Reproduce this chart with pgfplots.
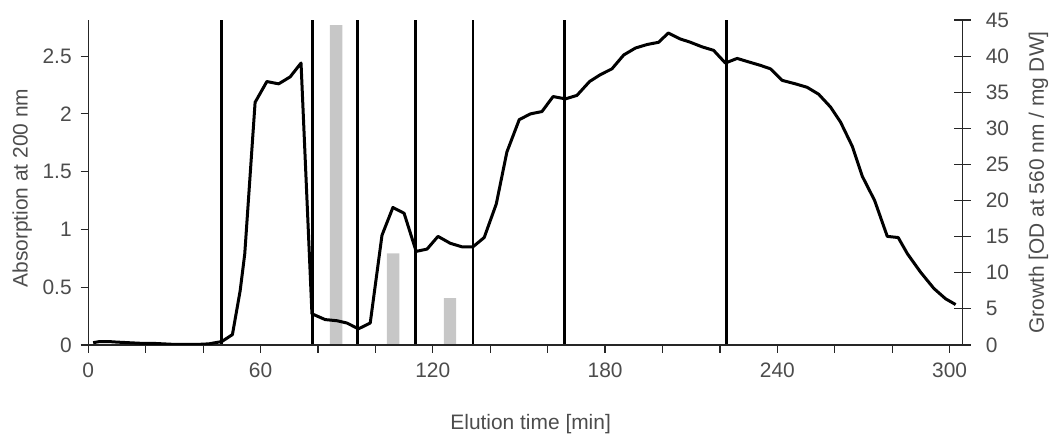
\documentclass[border=0pt]{standalone}
\usepackage{fontspec}
\setmainfont{Liberation Sans}
\usepackage{pgfplots}
\pgfplotsset{compat=1.18}
\definecolor{txt}{gray}{0.3}
\definecolor{barfill}{gray}{0.78}
\begin{document}
\begin{tikzpicture}
\path[use as bounding box] (-44.15bp,-45bp) rectangle (483.85bp,172.5bp);
\pgfplotsset{common/.style={
  scale only axis, width=437.1bp, height=162.5bp, at={(0,0)}, anchor=south west,
  xmin=0, xmax=304.5,
  font=\fontsize{10.5}{12}\selectfont,
  /pgf/number format/assume math mode=true,
  tick label style={text=txt},
  label style={text=txt},
  axis line style={line width=0.6bp, black!85},
  every tick/.style={line width=0.6bp, black!85},
}}
% right axis: growth bars and fraction boundaries
\begin{axis}[common,
  ymin=0, ymax=45,
  axis x line=none, axis y line*=right,
  y axis line style={-},
  ytick={0,5,...,45},
  tick align=center, major tick length=8.3bp,
  yticklabel style={anchor=west, xshift=4bp},
  ylabel={Growth [OD at 560 nm / mg DW]},
  ylabel style={at={(axis description cs:1.087,0.5)}, anchor=center, rotate=0},
]
\addplot[ybar, bar width=6.2bp, fill=barfill, draw=none] coordinates {
  (86.3,44.3) (106.2,12.7) (126.0,6.5)
};
\addplot[ycomb, no marks, black, line width=1.4bp] coordinates {
  (46.3,45) (78.1,45) (93.9,45) (113.9,45) (134.0,45) (165.9,45) (222.2,45)
};
\end{axis}
% left axis: absorption
\begin{axis}[common,
  ymin=0, ymax=2.8125,
  axis x line*=bottom, axis y line*=left,
  x axis line style={-}, y axis line style={-},
  xtick={0,20,...,300},
  xticklabels={0,,,60,,,120,,,180,,,240,,,300},
  ytick={0,0.5,1,1.5,2,2.5},
  yticklabels={0,0.5,1,1.5,2,2.5},
  tick align=outside, major tick length=3.8bp,
  xticklabel style={anchor=center, yshift=-9bp},
  yticklabel style={anchor=east, xshift=-1bp},
  xlabel={Elution time [min]},
  xlabel style={at={(axis description cs:0.506,-0.243)}, anchor=center},
  ylabel={Absorption at 200 nm},
  ylabel style={at={(axis description cs:-0.0755,0.483)}, anchor=center},
]
\addplot[black, line width=1.5bp, line join=round, no marks] coordinates {
(1.7,0.02) (4,0.03) (7,0.03) (10,0.025) (14,0.02) (18,0.015) (22,0.015) (26,0.01)
(30,0.005) (34,0.005) (38,0.005) (42,0.01) (46.5,0.03) (50.2,0.09) (52.9,0.47)
(54.5,0.79) (58.1,2.10) (62.2,2.28) (66.3,2.26) (70.3,2.32) (74.1,2.44) (77.9,0.27)
(82.5,0.22) (86.6,0.21) (90.1,0.19) (94.1,0.14) (98.2,0.19) (102.3,0.95) (106.1,1.19)
(110,1.14) (114.2,0.81) (118,0.83) (121.8,0.94) (126.1,0.88) (130.1,0.85) (134,0.85)
(137.9,0.93) (142.1,1.22) (145.8,1.67) (150.1,1.95) (154,2.00) (158,2.02) (161.9,2.15)
(166.2,2.13) (170.2,2.16) (174.6,2.28) (178.4,2.34) (182.4,2.39) (186.5,2.51) (190.6,2.57)
(194.6,2.60) (198.7,2.62) (202,2.70) (206,2.65) (209.7,2.62) (213.8,2.58) (217.8,2.55)
(221.9,2.44) (226,2.48) (230,2.45) (234.1,2.42) (237.6,2.39) (241.7,2.29) (246.3,2.26)
(250.4,2.23) (254.4,2.17) (258.5,2.06) (262,1.93) (266.1,1.72) (269.6,1.46) (273.9,1.25)
(278.3,0.94) (282.1,0.93) (285.3,0.79) (289.9,0.63) (294.5,0.49) (298.6,0.40) (302.1,0.35)
};
\end{axis}
\end{tikzpicture}
\end{document}
